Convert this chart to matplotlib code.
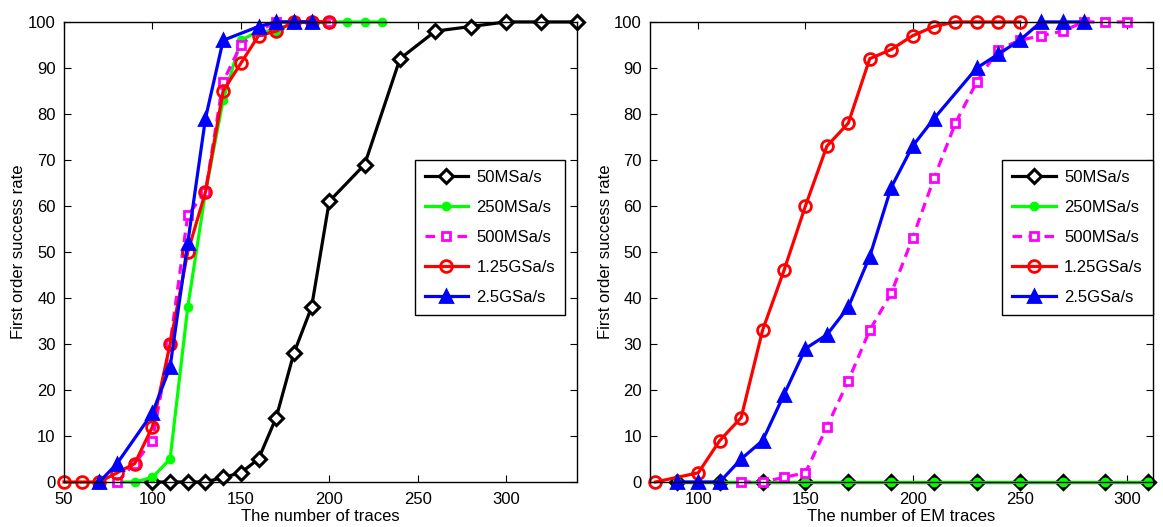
import matplotlib.pyplot as plt
import numpy as np

plt.rcParams['font.family'] = ['Liberation Sans', 'DejaVu Sans']

# left panel: first order success rate vs number of traces
l_50m_x = [100, 110, 120, 130, 140, 150, 160, 170, 180, 190, 200, 220, 240, 260, 280, 300, 320, 340]
l_50m_y = [0, 0, 0, 0, 1, 2, 5, 14, 28, 38, 61, 69, 92, 98, 99, 100, 100, 100]
l_250m_x = [80, 90, 100, 110, 120, 130, 140, 150, 160, 170, 180, 190, 200, 210, 220, 230]
l_250m_y = [0, 0, 1, 5, 38, 63, 83, 96, 98, 98, 100, 100, 100, 100, 100, 100]
l_500m_x = [80, 90, 100, 110, 120, 130, 140, 150, 160, 170, 180, 190, 200]
l_500m_y = [0, 4, 9, 30, 58, 63, 87, 95, 98, 100, 100, 100, 100]
l_125g_x = [50, 60, 70, 80, 90, 100, 110, 120, 130, 140, 150, 160, 170, 180, 190, 200]
l_125g_y = [0, 0, 0, 2, 4, 12, 30, 50, 63, 85, 91, 97, 98, 100, 100, 100]
l_25g_x = [70, 80, 100, 110, 120, 130, 140, 160, 170, 180, 190]
l_25g_y = [0, 4, 15, 25, 52, 79, 96, 99, 100, 100, 100]

# right panel: success rate vs number of EM traces
r_50m_x = [90, 110, 130, 150, 170, 190, 210, 230, 250, 270, 290, 310]
r_50m_y = [0] * 12
r_250m_x = r_50m_x
r_250m_y = [0] * 12
r_500m_x = [120, 130, 140, 150, 160, 170, 180, 190, 200, 210, 220, 230, 240, 250, 260, 270, 280, 290, 300]
r_500m_y = [0, 0, 1, 2, 12, 22, 33, 41, 53, 66, 78, 87, 94, 96, 97, 98, 100, 100, 100]
r_125g_x = [80, 100, 110, 120, 130, 140, 150, 160, 170, 180, 190, 200, 210, 220, 230, 240, 250]
r_125g_y = [0, 2, 9, 14, 33, 46, 60, 73, 78, 92, 94, 97, 99, 100, 100, 100, 100]
r_25g_x = [90, 100, 110, 120, 130, 140, 150, 160, 170, 180, 190, 200, 210, 230, 240, 250, 260, 270, 280]
r_25g_y = [0, 0, 0, 5, 9, 19, 29, 32, 38, 49, 64, 73, 79, 90, 93, 96, 100, 100, 100]

labels = ["50MSa/s", "250MSa/s", "500MSa/s", "1.25GSa/s", "2.5GSa/s"]

fig = plt.figure(figsize=(11.63, 5.27), dpi=100)
ax1 = fig.add_axes([0.055, 0.0854, 0.441, 0.873])
ax2 = fig.add_axes([0.559, 0.0854, 0.432, 0.873])

lw = 2.3


def draw(ax, data):
    (x1, y1), (x2, y2), (x3, y3), (x4, y4), (x5, y5) = data
    ax.plot(x1, y1, color="k", lw=lw, marker="D", ms=7, mfc="white", mec="k", mew=2.2,
            clip_on=False, label=labels[0])
    ax.plot(x2, y2, color="#00ff00", lw=lw, marker="o", ms=6, mfc="#00ff00", mec="#00ff00",
            clip_on=False, label=labels[1])
    ax.plot(x3, y3, color="#ff00ff", lw=lw, ls="--", marker="s", ms=6, mfc="white", mec="#ff00ff", mew=2,
            dashes=(3, 2), clip_on=False, label=labels[2])
    ax.plot(x4, y4, color="red", lw=lw, marker="o", ms=8.5, mfc="none", mec="red", mew=2,
            clip_on=False, label=labels[3])
    ax.plot(x5, y5, color="blue", lw=lw, marker="^", ms=9, mfc="blue", mec="blue", mew=2,
            clip_on=False, label=labels[4])
    ax.set_ylim(0, 100)
    ax.set_yticks(np.arange(0, 101, 10))
    ax.tick_params(direction="in", top=True, right=True, labelsize=12, length=5)
    ax.tick_params(axis="x", pad=7)
    ax.tick_params(axis="y", pad=6)
    ax.set_ylabel("First order success rate", fontsize=12, labelpad=1)
    for s in ax.spines.values():
        s.set_linewidth(1.0)


def add_legend(ax, anchor, loc):
    ax.legend(loc=loc, bbox_to_anchor=anchor, fontsize=12, handlelength=2.6,
              fancybox=False, edgecolor="k", framealpha=1, borderpad=0.6, labelspacing=0.9,
              handletextpad=0.5, borderaxespad=0)


draw(ax1, [(l_50m_x, l_50m_y), (l_250m_x, l_250m_y), (l_500m_x, l_500m_y),
           (l_125g_x, l_125g_y), (l_25g_x, l_25g_y)])
ax1.set_xlim(50, 340)
ax1.set_xticks([50, 100, 150, 200, 250, 300])
ax1.set_xlabel("The number of traces", fontsize=12, labelpad=2)
add_legend(ax1, (0.684, 0.70), "upper left")

draw(ax2, [(r_50m_x, r_50m_y), (r_250m_x, r_250m_y), (r_500m_x, r_500m_y),
           (r_125g_x, r_125g_y), (r_25g_x, r_25g_y)])
ax2.set_xlim(77.5, 312)
ax2.set_xticks([100, 150, 200, 250, 300])
ax2.set_xlabel("The number of EM traces", fontsize=12, labelpad=2)
add_legend(ax2, (1.0, 0.70), "upper right")

fig.savefig("out.png", dpi=100)
